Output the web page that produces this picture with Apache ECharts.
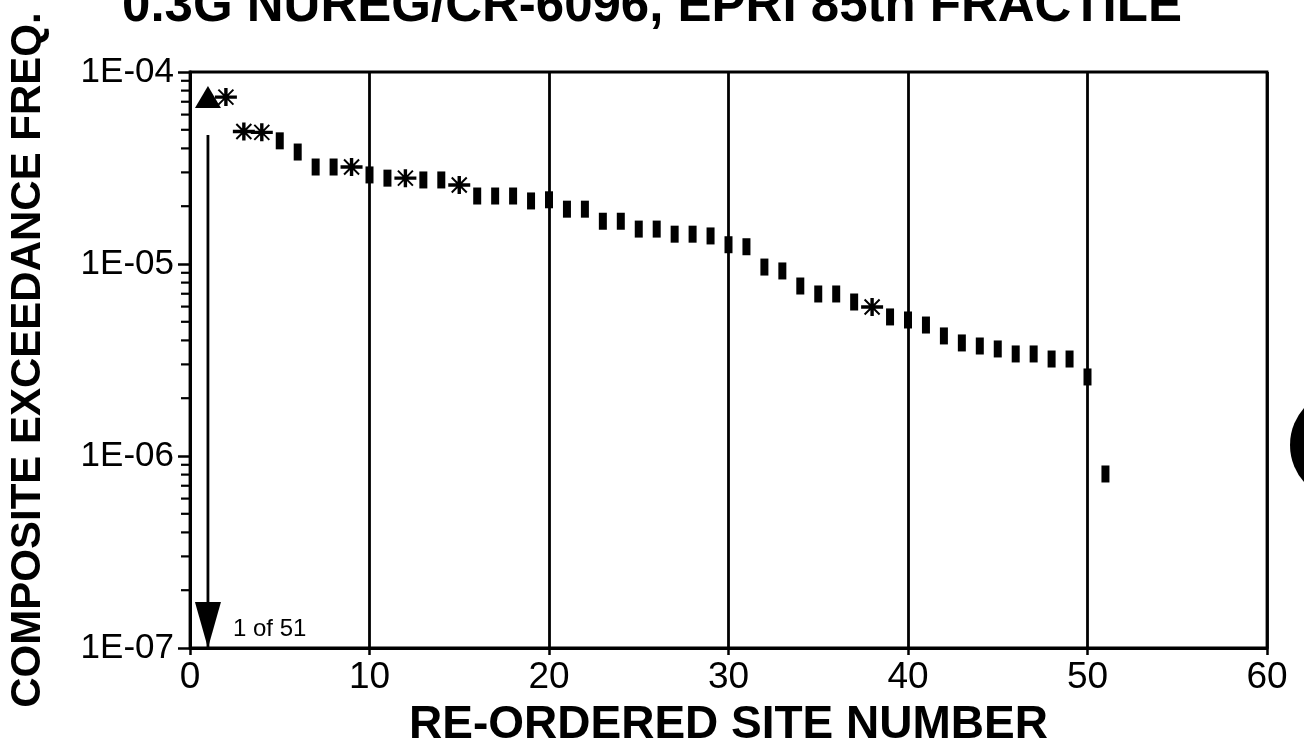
<!DOCTYPE html>
<html>
<head>
<meta charset="utf-8">
<script src="https://cdn.jsdelivr.net/npm/echarts@6/dist/echarts.min.js"></script>
<style>
  html, body { margin: 0; padding: 0; background: #fff; }
  #chart { width: 1304px; height: 749px; }
</style>
</head>
<body>
<div id="chart"></div>
<script>
// ---- data ----
const titleText = '0.3G NUREG/CR-6096, EPRI 85th FRACTILE';
const xAxisTitle = 'RE-ORDERED SITE NUMBER';
const yAxisTitle = 'COMPOSITE EXCEEDANCE FREQ.';

const siteNumbers = [1,2,3,4,5,6,7,8,9,10,11,12,13,14,15,16,17,18,19,20,21,22,23,24,25,26,27,28,29,30,31,32,33,34,35,36,37,38,39,40,41,42,43,44,45,46,47,48,49,50,51];
const exceedanceFreq = [
  7.4e-5, 7.4e-5, 4.9e-5, 4.85e-5, 4.38e-5, 3.83e-5, 3.2e-5, 3.2e-5, 3.2e-5, 2.91e-5,
  2.8e-5, 2.8e-5, 2.74e-5, 2.74e-5, 2.58e-5, 2.26e-5, 2.26e-5, 2.26e-5, 2.13e-5, 2.16e-5,
  1.93e-5, 1.93e-5, 1.67e-5, 1.67e-5, 1.52e-5, 1.52e-5, 1.43e-5, 1.43e-5, 1.40e-5, 1.26e-5,
  1.23e-5, 9.64e-6, 9.2e-6, 7.68e-6, 6.98e-6, 6.98e-6, 6.34e-6, 5.97e-6, 5.30e-6, 5.11e-6,
  4.81e-6, 4.22e-6, 3.88e-6, 3.74e-6, 3.61e-6, 3.40e-6, 3.40e-6, 3.20e-6, 3.20e-6, 2.58e-6,
  8.06e-7
];
// marker style per site: T = triangle, A = asterisk, B = bar
const markerKinds = [
  'T','A','A','A','B','B','B','B','A','B',
  'B','A','B','B','A','B','B','B','B','B',
  'B','B','B','B','B','B','B','B','B','B',
  'B','B','B','B','B','B','B','A','B','B',
  'B','B','B','B','B','B','B','B','B','B',
  'B'
];
// annotation arrow for site 1
const arrowSite = 1;
const arrowTop = 4.7e-5;
const arrowBottom = 1e-7;
const arrowText = '1 of 51';

const xTickValues = [0, 10, 20, 30, 40, 50, 60];
const yTickValues = [1e-7, 1e-6, 1e-5, 1e-4];
const yTickLabels = ['1E-07', '1E-06', '1E-05', '1E-04'];
const yMinorTickValues = [
  2e-7,3e-7,4e-7,5e-7,6e-7,7e-7,8e-7,9e-7,
  2e-6,3e-6,4e-6,5e-6,6e-6,7e-6,8e-6,9e-6,
  2e-5,3e-5,4e-5,5e-5,6e-5,7e-5,8e-5,9e-5
];

// ---- chart ----
const FONT = '"Liberation Sans", Arial, Helvetica, sans-serif';
const asteriskPath = 'path://' +
  'M-11,-1.7L11,-1.7L11,1.7L-11,1.7Z' +
  'M-1.7,-9L1.7,-9L1.7,9L-1.7,9Z' +
  'M-6.8,-8.2L8.2,6.8L6.8,8.2L-8.2,-6.8Z' +
  'M-8.2,6.8L6.8,-8.2L8.2,-6.8L-6.8,8.2Z';

function pick(kind) {
  const out = [];
  siteNumbers.forEach((s, i) => { if (markerKinds[i] === kind) out.push([s, exceedanceFreq[i]]); });
  return out;
}

const chart = echarts.init(document.getElementById('chart'), null, { renderer: 'canvas' });
chart.setOption({
  animation: false,
  backgroundColor: '#fff',
  title: {
    text: titleText, left: 'center', top: -19, padding: 0,
    textStyle: { fontFamily: FONT, fontSize: 51, fontWeight: 'bold', color: '#000' }
  },
  grid: { left: 190, right: 37, top: 72, bottom: 101, show: true, borderColor: '#000', borderWidth: 2.8,
    containLabel: false, outerBoundsMode: 'none' },
  xAxis: {
    type: 'value', min: 0, max: 60, interval: 10,
    name: xAxisTitle, nameLocation: 'middle', nameGap: 54,
    nameTextStyle: { fontFamily: FONT, fontSize: 46, fontWeight: 'bold', color: '#000' },
    axisLine: { show: true, lineStyle: { color: '#000', width: 2.8 } },
    axisTick: { show: true, length: 7, lineStyle: { color: '#000', width: 2.5 } },
    axisLabel: { fontFamily: FONT, fontSize: 37, color: '#000', margin: 11,
      formatter: v => xTickValues.indexOf(v) >= 0 ? String(v) : '' },
    splitLine: { show: true, lineStyle: { color: '#000', width: 2.8 } }
  },
  yAxis: {
    type: 'log', logBase: 10, min: 1e-7, max: 1e-4,
    name: yAxisTitle, nameLocation: 'middle', nameRotate: 90, nameGap: 141,
    nameTextStyle: { fontFamily: FONT, fontSize: 42, fontWeight: 'bold', color: '#000' },
    axisLine: { show: true, lineStyle: { color: '#000', width: 2.8 } },
    axisTick: { show: true, length: 12, lineStyle: { color: '#000', width: 2.5 } },
    axisLabel: { fontFamily: FONT, fontSize: 35, color: '#000', margin: 16,
      formatter: v => {
        let best = 0;
        yTickValues.forEach((t, i) => { if (Math.abs(Math.log10(t) - Math.log10(v)) < Math.abs(Math.log10(yTickValues[best]) - Math.log10(v))) best = i; });
        return yTickLabels[best];
      } },
    splitLine: { show: false }
  },
  series: [
    {
      type: 'custom', name: 'minorTicks', silent: true,
      data: yMinorTickValues.map(v => [0, v]),
      renderItem: (params, api) => {
        const p = api.coord([0, api.value(1)]);
        return { type: 'line', shape: { x1: p[0] - 9, y1: p[1], x2: p[0], y2: p[1] },
          style: { stroke: '#000', lineWidth: 2.2 } };
      }
    },
    {
      type: 'line', name: 'arrow', silent: true, symbol: 'none',
      data: [[arrowSite, arrowTop], [arrowSite, arrowBottom]],
      lineStyle: { color: '#000', width: 2.8, opacity: 1 }
    },
    {
      type: 'scatter', name: 'arrowHead', silent: true,
      data: [[arrowSite, arrowBottom]],
      symbol: 'path://M0,0L26,0L13,46Z', symbolSize: [26, 46], symbolOffset: [0, -23],
      itemStyle: { color: '#000', opacity: 1 },
      label: { show: true, position: 'right', distance: 12, offset: [0, 4], formatter: arrowText,
        fontFamily: FONT, fontSize: 24, color: '#000' }
    },
    {
      type: 'scatter', name: 'bars', data: pick('B'),
      symbol: 'rect', symbolSize: [8, 17], itemStyle: { color: '#000', opacity: 1 }
    },
    {
      type: 'scatter', name: 'asterisks', data: pick('A'),
      symbol: asteriskPath, symbolSize: [22, 18], itemStyle: { color: '#000', opacity: 1 }
    },
    {
      type: 'scatter', name: 'triangle', data: pick('T'),
      symbol: 'triangle', symbolSize: [26, 22], itemStyle: { color: '#000', opacity: 1 }
    }
  ],
  graphic: [
    { type: 'circle', shape: { cx: 1346, cy: 445, r: 56 }, style: { fill: '#000' }, silent: true }
  ]
});
</script>
</body>
</html>
